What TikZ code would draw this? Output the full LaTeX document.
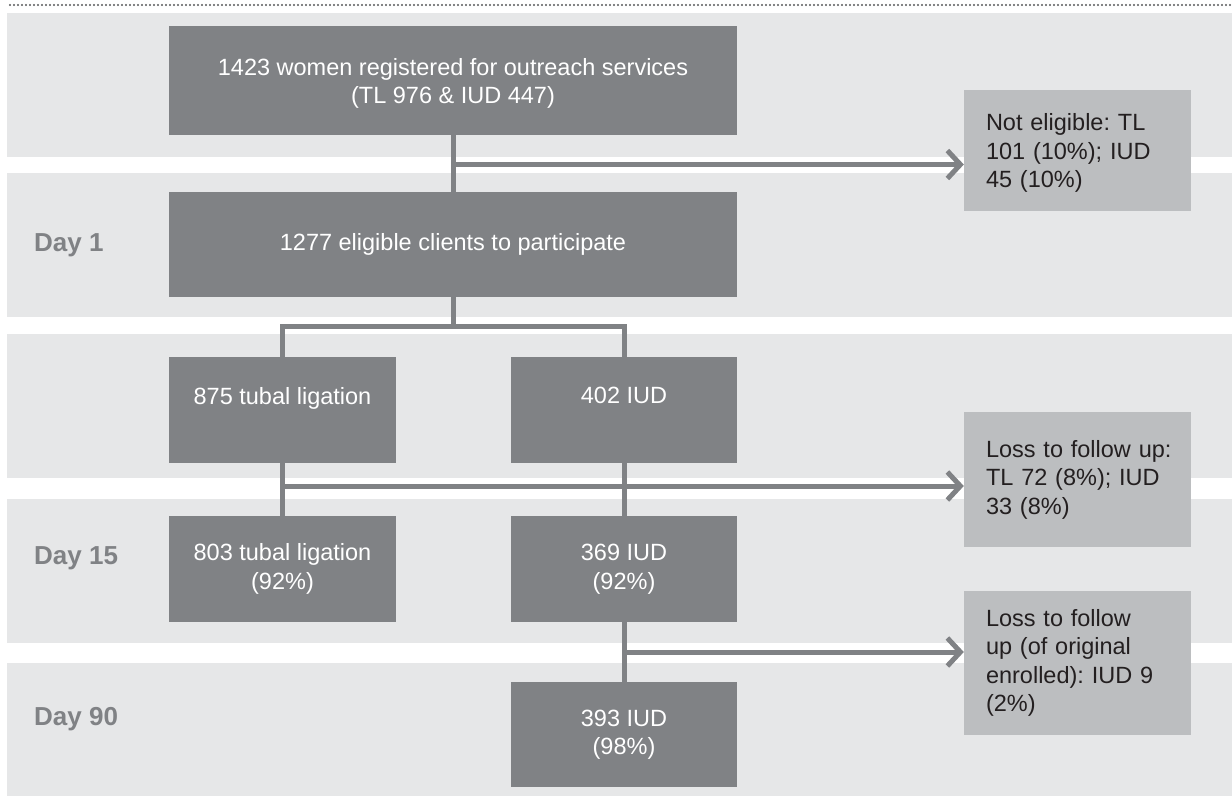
\documentclass[tikz,border=0pt]{standalone}
\usepackage{fontspec}
\setmainfont{Liberation Sans}
\usetikzlibrary{arrows.meta}
\definecolor{band}{HTML}{E6E7E8}
\definecolor{dark}{HTML}{808285}
\definecolor{light}{HTML}{BCBEC0}
\definecolor{ink}{HTML}{231F20}
\definecolor{dotc}{HTML}{58595B}
\frenchspacing
\begin{document}
\frenchspacing
\begin{tikzpicture}[x=1pt,y=-1pt,
  darkbox/.style={fill=dark, text=white, inner sep=0pt, align=center, font=\fontsize{23.5}{28.5}\selectfont\frenchspacing},
  lightbox/.style={fill=light, text=ink, inner ysep=0pt, inner xsep=22pt, text width=183pt, align=left, font=\fontsize{23.5}{28.5}\selectfont\frenchspacing},
  daylabel/.style={text=dark, font=\fontsize{26}{30}\selectfont\bfseries, anchor=west, inner sep=0pt},
  conn/.style={draw=dark, line width=5pt},
  casing/.style={draw=white, line width=8pt},
  arr/.style={conn, -{Straight Barb[length=13pt,width=28pt]}},
  bandfill/.style={fill=band},
]
\useasboundingbox (0,0) rectangle (1232,796);
\fill[white] (0,0) rectangle (1232,796);
\draw[dotc, line width=2.2pt, line cap=round, dash pattern=on 0pt off 4pt] (10,5) -- (1232,5);
% bands
\fill[bandfill] (7,13) rectangle (1232,157);
\fill[bandfill] (7,173) rectangle (1232,317);
\fill[bandfill] (7,334) rectangle (1232,478);
\fill[bandfill] (7,499) rectangle (1232,643);
\fill[bandfill] (7,663) rectangle (1232,796);
% day labels
\node[daylabel] (d1) at (34,245) {Day 1};
\node[daylabel] (d15) at (34,558) {Day 15};
\node[daylabel] (d90) at (34,719) {Day 90};
% dark boxes
\node[darkbox, minimum width=568pt, minimum height=109pt] (b1) at (453,80.5) {\rule{0pt}{23pt}1423 women registered for outreach services\\(TL 976 \& IUD 447)};
\node[darkbox, minimum width=568pt, minimum height=105pt] (b2) at (453,244.5) {1277 eligible clients to participate};
\node[darkbox, minimum width=227pt, minimum height=106pt] (tl) at (282.5,410) {875 tubal ligation\\\mbox{}};
\node[darkbox, minimum width=226pt, minimum height=106pt] (iud) at (624,410) {402 IUD\\\mbox{}};
\node[darkbox, minimum width=227pt, minimum height=106pt] (tl15) at (282.5,569) {803 tubal ligation\\(92\%)};
\node[darkbox, minimum width=226pt, minimum height=106pt] (iud15) at (624,569) {369 IUD\\(92\%)};
\node[darkbox, minimum width=226pt, minimum height=105pt] (iud90) at (624,734.5) {393 IUD\\(98\%)};
% light boxes
\node[lightbox, minimum height=121pt] (ne) at (1077.5,150.5) {\rule{0pt}{22pt}Not eligible: TL\\101 (10\%); IUD\\45 (10\%)};
\node[lightbox, minimum height=135pt] (l1) at (1077.5,479.5) {\mbox{Loss to follow up:}\\TL 72 (8\%); IUD\\33 (8\%)};
\node[lightbox, minimum height=144pt] (l2) at (1077.5,663) {Loss to follow\\up (of original\\\mbox{enrolled): IUD 9}\\(2\%)};
% junction points
\coordinate (j1) at (453,164.5);
\coordinate (s) at (453,326.5);
\coordinate (j2) at (282.5,486);
\coordinate (j3) at (624,652);
% horizontals with casing
\draw[casing, shorten >=14pt] (j1) -- (j1 -| ne.west);
\draw[arr] (j1) -- (j1 -| ne.west);
\draw[casing, shorten >=14pt] (j2) -- (j2 -| l1.west);
\draw[arr] (j2) -- (j2 -| l1.west);
\draw[casing, shorten >=14pt] (j3) -- (j3 -| l2.west);
\draw[arr] (j3) -- (j3 -| l2.west);
\draw[casing] (tl.north |- s) -- (iud.north |- s);
% verticals
\draw[conn] (b1.south) -- (b2.north);
\draw[conn] (b2.south) -- (s);
\draw[conn, line join=miter] (tl.north) |- (s) -| (iud.north);
\draw[conn] (tl.south) -- (tl15.north);
\draw[conn] (iud.south) -- (iud15.north);
\draw[conn] (iud15.south) -- (iud90.north);
\end{tikzpicture}
\end{document}
